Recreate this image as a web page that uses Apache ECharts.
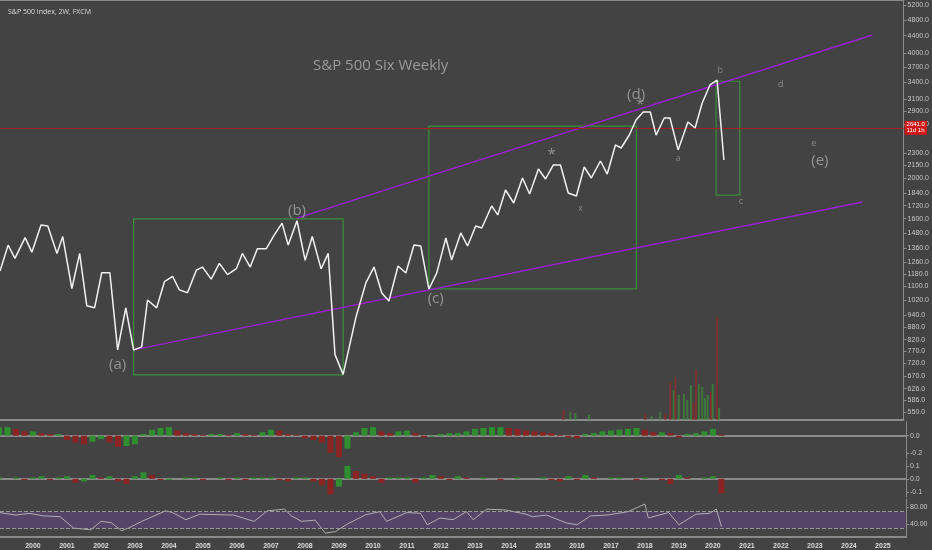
<!DOCTYPE html>
<html><head><meta charset="utf-8">
<script src="https://cdn.jsdelivr.net/npm/echarts@6/dist/echarts.min.js"></script>
<style>html,body{margin:0;padding:0;background:#434343}#c{width:932px;height:550px}</style>
</head><body><div id="c"></div>
<script>
const priceYears=[1999.03,1999.27,1999.47,1999.77,1999.97,2000.24,2000.44,2000.71,2000.88,2001.15,2001.38,2001.59,2001.82,2002.03,2002.27,2002.5,2002.74,2002.97,2003.21,2003.38,2003.65,2003.88,2004.12,2004.32,2004.56,2004.82,2005.0,2005.26,2005.5,2005.74,2006.0,2006.18,2006.41,2006.62,2006.88,2007.12,2007.35,2007.53,2007.79,2008.03,2008.24,2008.5,2008.71,2008.91,2009.15,2009.53,2009.82,2010.06,2010.29,2010.5,2010.77,2011.0,2011.24,2011.44,2011.68,2011.91,2012.18,2012.35,2012.62,2012.82,2013.06,2013.24,2013.53,2013.71,2013.94,2014.18,2014.44,2014.65,2014.91,2015.12,2015.35,2015.56,2015.79,2016.03,2016.26,2016.47,2016.74,2016.94,2017.18,2017.35,2017.59,2017.79,2018.0,2018.21,2018.38,2018.62,2018.79,2019.03,2019.32,2019.53,2019.74,2019.97,2020.18,2020.38];
const priceValues=[1199,1383,1285,1441,1330,1546,1537,1321,1450,1088,1321,989,978,1187,1187,775,978,775,788,1021,978,1130,1163,1080,1063,1204,1225,1146,1250,1175,1214,1321,1225,1355,1355,1463,1561,1383,1582,1271,1450,1213,1321,755,677,930,1122,1225,1061,1015,1232,1185,1384,1376,1085,1185,1438,1274,1479,1376,1537,1520,1717,1634,1875,1745,2004,1834,2106,1993,2153,2153,1844,1814,2129,2004,2201,2048,2405,2365,2541,2760,2885,2885,2539,2791,2791,2340,2730,2641,3032,3350,3443,2213];
const priceTicks=[5200,4800,4400,4000,3700,3400,3100,2900,2700,2300,2150,2000,1840,1720,1600,1480,1360,1260,1180,1100,1020,940,880,820,770,720,670,626,586,550];
const yearTicks=[2000,2001,2002,2003,2004,2005,2006,2007,2008,2009,2010,2011,2012,2013,2014,2015,2016,2017,2018,2019,2020,2021,2022,2023,2024,2025];
const upperChannel=[[2007.79,1606],[2024.76,4415]];
const lowerChannel=[[2002.97,775],[2024.47,1755]];
const boxes=[[2002.97,1598,2009.15,675],[2011.68,2670,2017.8,1086],[2020.15,3420,2020.85,1823]];
const redLevel=2641;
const annotations=[[2002.50,713,'(a)',1],[2007.79,1670,'(b)',1],[2011.88,1027,'(c)',1],[2017.79,3170,'(d)',1],[2023.21,2200,'(e)',1],[2015.3,2275,'*',1],[2017.91,2998,'*',1],[2016.15,1698,'x',0],[2019.03,2237,'a',0],[2020.27,3637,'b',0],[2020.88,1765,'c',0],[2022.06,3352,'d',0],[2023.03,2431,'e',0]];
const volYears=[2015.65,2015.85,2016.0,2016.4,2018.06,2018.25,2018.5,2018.65,2018.8,2018.9,2018.95,2019.05,2019.2,2019.3,2019.41,2019.48,2019.56,2019.64,2019.74,2019.82,2019.9,2020.0,2020.05,2020.18,2020.24];
const volValues=[10,8,7,5,6,4,8,6,38,30,43,25,26,20,35,17,50,36,33,22,25,28,36,103,12];
const volUp=[0,1,1,1,0,1,1,0,0,1,0,1,1,1,1,0,0,1,1,1,1,0,1,0,1];
const macdValues=[0.10,0.10,0.08,0.05,0.05,0.03,0.02,0.02,-0.05,-0.08,-0.10,-0.07,-0.04,-0.08,-0.13,-0.12,-0.10,0.02,0.07,0.09,0.10,0.06,0.03,0.02,0.01,0.02,0.02,0.01,0.03,0.02,0.01,0.04,0.07,0.06,0.02,0.01,-0.03,-0.05,-0.08,-0.20,-0.25,-0.15,0.04,0.09,0.10,0.05,0.03,0.05,0.06,0.03,-0.02,-0.01,0.02,0.03,0.03,0.05,0.08,0.09,0.10,0.10,0.09,0.08,0.06,0.05,0.04,0.03,0.01,-0.02,-0.03,0.02,0.03,0.05,0.06,0.07,0.08,0.09,0.07,0.04,0.04,0.03,-0.02,0.02,0.03,0.05,0.08,0.01];
const oscValues=[0.01,0.00,0.01,-0.01,0.01,0.02,-0.01,0.01,0.02,-0.03,-0.02,0.03,0.01,0.02,-0.02,-0.04,0.02,0.05,0.03,-0.01,-0.01,0.00,0.01,0.01,-0.01,0.00,0.01,-0.01,0.01,-0.01,0.01,0.01,0.01,-0.01,-0.02,0.01,0.01,-0.02,-0.05,-0.12,-0.06,0.10,0.06,0.04,0.02,-0.03,0.01,0.01,0.01,-0.03,0.01,0.03,0.02,-0.01,0.02,0.01,0.00,0.01,0.00,-0.01,0.00,0.01,0.00,0.00,0.01,-0.01,-0.02,0.02,-0.01,0.03,0.01,0.00,0.01,0.01,0.00,-0.01,0.01,0.00,-0.01,-0.04,0.03,0.01,0.00,0.01,0.02,-0.11];
const indicatorStart=1999.0, indicatorStep=0.25;
const rsiYears=[1999.0,1999.5,1999.9,2000.3,2000.8,2001.2,2001.7,2002.0,2002.3,2002.6,2002.8,2003.2,2003.9,2004.1,2004.5,2004.9,2005.9,2006.5,2006.9,2007.4,2007.6,2007.9,2008.3,2008.6,2008.9,2009.3,2009.8,2010.2,2010.4,2011.0,2011.4,2011.6,2011.97,2012.36,2012.75,2012.95,2013.35,2013.9,2014.5,2014.7,2015.1,2015.7,2016.0,2016.4,2016.9,2017.5,2018.0,2018.1,2018.7,2019.0,2019.5,2019.9,2020.1,2020.25];
const rsiValues=[68,62,66,60,58,31,27,47,44,25,31,47,72,68,51,64,62,47,72,76,60,47,50,19,23,43,63,70,47,68,66,39,55,51,70,51,76,74,64,58,62,43,39,60,62,70,88,55,68,39,64,66,76,35];

const L=Math.log;
const pricePts=priceYears.map((y,i)=>[y,L(priceValues[i])]);
const XMIN=1999.03, XMAX=2025.68;
const colorOf=(arr,i)=> (i===0||arr[i]>=arr[i-1])?'#2f8f2f':'#8c2323';
const macdData=macdValues.map((v,i)=>({value:[indicatorStart+i*indicatorStep,v],itemStyle:{color:colorOf(macdValues,i)}}));
const oscData=oscValues.map((v,i)=>({value:[indicatorStart+i*indicatorStep,v],itemStyle:{color:colorOf(oscValues,i)}}));
const volData=volYears.map((y,i)=>({value:[y,volValues[i]],itemStyle:{color:volUp[i]?'rgba(60,140,60,0.7)':'rgba(150,40,40,0.7)'}}));
const sepLine={show:true,lineStyle:{color:'#8a8a8a',width:2}};
function xa(idx,labels){return {type:'value',gridIndex:idx,min:XMIN,max:XMAX,axisLine:sepLine,axisTick:{show:false},splitLine:{show:false},
 axisLabel:labels?{show:true,customValues:yearTicks,formatter:v=>String(Math.round(v)),color:'#ddd',fontSize:7,fontWeight:'bold',margin:6}:{show:false}};}
const yBase={position:'right',axisLine:{show:true,lineStyle:{color:'#8a8a8a'}},axisTick:{show:true,length:3,lineStyle:{color:'#8a8a8a'}},splitLine:{show:false},axisLabel:{color:'#c8c8c8',fontSize:7,margin:4}};
const lnMin=L(550)-8/181, lnMax=L(550)+412/181;
const ch=echarts.init(document.getElementById('c'));
ch.setOption({
 backgroundColor:'#434343',animation:false,
 title:[{text:'S&P 500 Index, 2W, FXCM',left:3,top:3,textStyle:{color:'#ddd',fontSize:7,fontWeight:'normal',fontFamily:'Open Sans'}},
        {text:'S&P 500 Six Weekly',left:308,top:53,textStyle:{color:'#9a9a9a',fontSize:15,fontWeight:'normal',fontFamily:'Open Sans'}}],
 grid:[{left:0,right:26,top:0,height:420},{left:0,right:26,top:422,height:36},{left:0,right:26,top:460,height:37},{left:0,right:26,top:499,height:38}],
 xAxis:[xa(0,false),xa(0,false),xa(1,false),xa(2,false),xa(3,true)],
 yAxis:[
  Object.assign({},yBase,{type:'value',gridIndex:0,min:lnMin,max:lnMax,axisLabel:Object.assign({},yBase.axisLabel,{customValues:priceTicks.map(L),formatter:v=>Math.round(Math.exp(v)).toFixed(1)}),axisTick:{show:true,length:3,customValues:priceTicks.map(L),lineStyle:{color:'#8a8a8a'}}}),
  {type:'value',gridIndex:0,min:0,max:420,show:false},
  Object.assign({},yBase,{type:'value',gridIndex:1,min:-0.26,max:0.16,axisLabel:Object.assign({},yBase.axisLabel,{customValues:[0,-0.2],formatter:v=>v.toFixed(1)}),axisTick:{show:true,length:3,customValues:[0,-0.2]}}),
  Object.assign({},yBase,{type:'value',gridIndex:2,min:-0.14,max:0.145,axisLabel:Object.assign({},yBase.axisLabel,{customValues:[0.1,0,-0.1],formatter:v=>v.toFixed(1)}),axisTick:{show:true,length:3,customValues:[0.1,0,-0.1]}}),
  Object.assign({},yBase,{type:'value',gridIndex:3,min:10,max:100,axisLabel:Object.assign({},yBase.axisLabel,{customValues:[80,40],formatter:v=>v.toFixed(2)}),axisTick:{show:true,length:3,customValues:[80,40]}})
 ],
 series:[
  {type:'bar',xAxisIndex:1,yAxisIndex:1,data:volData,barWidth:2,z:1},
  {type:'line',xAxisIndex:0,yAxisIndex:0,data:upperChannel.map(p=>[p[0],L(p[1])]),symbol:'none',lineStyle:{color:'#9b1fd6',width:1.4},z:3},
  {type:'line',xAxisIndex:0,yAxisIndex:0,data:lowerChannel.map(p=>[p[0],L(p[1])]),symbol:'none',lineStyle:{color:'#9b1fd6',width:1.4},z:3},
  {type:'line',xAxisIndex:0,yAxisIndex:0,data:pricePts,symbol:'none',lineStyle:{color:'#f2f2f2',width:1.5},z:5,
   markLine:{silent:true,symbol:'none',data:[{yAxis:L(redLevel)}],lineStyle:{color:'#a42020',width:1,type:'solid'},
     label:{position:'end',formatter:redLevel.toFixed(1)+'\n11d 1h',color:'#fff',backgroundColor:'#d01818',fontSize:6,padding:[1,2],distance:1}},
   markArea:{silent:true,itemStyle:{color:'rgba(0,0,0,0)',borderColor:'#3a8f3a',borderWidth:1.2},
     data:boxes.map(b=>[{coord:[b[0],L(b[1])]},{coord:[b[2],L(b[3])]}])}},
  {type:'scatter',xAxisIndex:0,yAxisIndex:0,symbolSize:0,z:6,
   data:annotations.map(a=>({value:[a[0],L(a[1])],label:{show:true,position:'inside',formatter:a[2],color:a[3]?'#a8a8a8':'#9a9a9a',fontSize:a[3]?(a[2]==='*'?15:15):9,fontFamily:'Open Sans'}}))},
  {type:'bar',xAxisIndex:2,yAxisIndex:2,data:macdData,barWidth:6},
  {type:'bar',xAxisIndex:3,yAxisIndex:3,data:oscData,barWidth:6},
  {type:'line',xAxisIndex:4,yAxisIndex:4,data:rsiYears.map((y,i)=>[y,rsiValues[i]]),symbol:'none',lineStyle:{color:'#c8c8c8',width:0.8},
   markArea:{silent:true,itemStyle:{color:'rgba(110,70,150,0.45)'},data:[[{yAxis:30,x:0},{yAxis:70,x:906}]]},
   markLine:{silent:true,symbol:'none',label:{show:false},lineStyle:{color:'#9a9a9a',type:'dashed',width:1},data:[{yAxis:70},{yAxis:30}]}}
 ]
});
</script></body></html>
